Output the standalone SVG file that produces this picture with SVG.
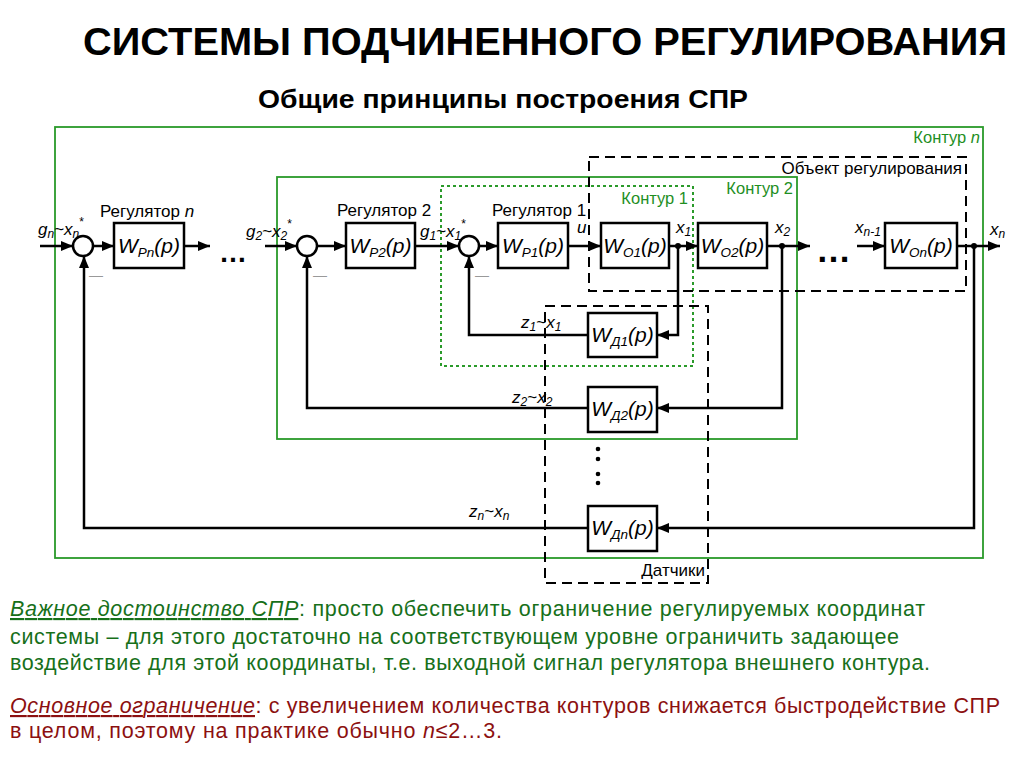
<svg xmlns="http://www.w3.org/2000/svg" width="1024" height="767" viewBox="0 0 1024 767">
<style>
text{font-family:"Liberation Sans",Arial,sans-serif;fill:#000}
.ttl{font-family:"Liberation Sans Narrow","Liberation Sans",Arial,sans-serif;font-weight:bold;font-stretch:condensed}
.blk{fill:#fff;stroke:#000;stroke-width:2.5}
.sig{fill:none;stroke:#000;stroke-width:2.5}
.sum{fill:#fff;stroke:#000;stroke-width:2.5}
.kg{fill:none;stroke:#2a9a2a;stroke-width:1.8}
.kd{fill:none;stroke:#2a9a2a;stroke-width:2;stroke-dasharray:3 3}
.dash{fill:none;stroke:#000;stroke-width:2;stroke-dasharray:10 6}
.w{font-size:21px;font-style:italic;text-anchor:middle}
.ws{font-size:13.5px}
.lbl{font-size:17px}
.it{font-style:italic}
.sb{font-size:12px}
.gl{font-size:16.5px;fill:#1f8f1f}
.mn{font-size:14px;fill:#999}
.gt{font-size:21.5px;fill:#17701a}
.rt{font-size:21.5px;fill:#8c1010}
</style>
<defs>
<marker id="ar" viewBox="0 0 12 10" refX="12" refY="5" markerWidth="12" markerHeight="10" markerUnits="userSpaceOnUse" orient="auto">
<path d="M0,0 L12,5 L0,10 z" fill="#000"/>
</marker>
</defs>

<text class="ttl" x="83" y="55" font-size="39" textLength="924" lengthAdjust="spacingAndGlyphs">СИСТЕМЫ ПОДЧИНЕННОГО РЕГУЛИРОВАНИЯ</text>
<text class="ttl" x="258" y="108" font-size="26" textLength="490" lengthAdjust="spacingAndGlyphs">Общие принципы построения СПР</text>

<g id="kontur-n"><rect class="kg" x="55" y="127" width="928" height="431"/>
<text class="gl" x="980" y="143" text-anchor="end">Контур <tspan class="it">n</tspan></text></g>
<g id="kontur-2"><rect class="kg" x="277" y="177" width="520" height="262"/>
<text class="gl" x="793" y="194" text-anchor="end">Контур 2</text></g>
<g id="kontur-1"><rect class="kd" x="441" y="186" width="252" height="180"/>
<text class="gl" x="688" y="204" text-anchor="end">Контур 1</text></g>
<g id="object"><rect class="dash" x="589" y="157" width="377" height="134"/>
<text class="lbl" x="962" y="174" text-anchor="end">Объект регулирования</text></g>
<g id="sensors"><rect class="dash" x="545" y="306" width="163" height="277"/>
<text class="lbl" x="705" y="576" text-anchor="end">Датчики</text></g>

<g id="connectors">
<path class="sig" d="M40,246 H73" marker-end="url(#ar)"/>
<path class="sig" d="M93,246 H114" marker-end="url(#ar)"/>
<path class="sig" d="M184,246 H210" marker-end="url(#ar)"/>
<path class="sig" d="M265,246 H297" marker-end="url(#ar)"/>
<path class="sig" d="M317,246 H346" marker-end="url(#ar)"/>
<path class="sig" d="M415,246 H459" marker-end="url(#ar)"/>
<path class="sig" d="M479,246 H498" marker-end="url(#ar)"/>
<path class="sig" d="M568,246 H601" marker-end="url(#ar)"/>
<path class="sig" d="M669,246 H698" marker-end="url(#ar)"/>
<path class="sig" d="M767,246 H810" marker-end="url(#ar)"/>
<path class="sig" d="M857,246 H885" marker-end="url(#ar)"/>
<path class="sig" d="M957,246 H1000" marker-end="url(#ar)"/>
<path class="sig" d="M678,246 V335 H657" marker-end="url(#ar)"/>
<path class="sig" d="M588,335 H469 V256" marker-end="url(#ar)"/>
<path class="sig" d="M782,246 V408 H657" marker-end="url(#ar)"/>
<path class="sig" d="M588,408 H307 V256" marker-end="url(#ar)"/>
<path class="sig" d="M974,246 V528 H657" marker-end="url(#ar)"/>
<path class="sig" d="M588,528 H84 V256" marker-end="url(#ar)"/>
<circle cx="678" cy="246" r="3" fill="#000"/>
<circle cx="782" cy="246" r="3" fill="#000"/>
<circle cx="974" cy="246" r="3" fill="#000"/>
</g>

<g id="sum-n"><circle class="sum" cx="83" cy="246" r="10"/><text class="mn" x="89" y="280">—</text></g>
<g id="sum-2"><circle class="sum" cx="307" cy="246" r="10"/><text class="mn" x="313" y="280">—</text></g>
<g id="sum-1"><circle class="sum" cx="469" cy="246" r="10"/><text class="mn" x="475" y="280">—</text></g>

<g id="wpn"><rect class="blk" x="114" y="223" width="70" height="45"/>
<text class="w" x="149" y="253">W<tspan class="ws" dy="4">Pn</tspan><tspan dy="-4">(p)</tspan></text>
<text class="lbl" x="100" y="217">Регулятор <tspan class="it">n</tspan></text></g>
<g id="wp2"><rect class="blk" x="346" y="223" width="69" height="45"/>
<text class="w" x="380.5" y="253">W<tspan class="ws" dy="4">P2</tspan><tspan dy="-4">(p)</tspan></text>
<text class="lbl" x="337" y="216">Регулятор 2</text></g>
<g id="wp1"><rect class="blk" x="498" y="223" width="70" height="45"/>
<text class="w" x="533" y="253">W<tspan class="ws" dy="4">P1</tspan><tspan dy="-4">(p)</tspan></text>
<text class="lbl" x="492" y="216">Регулятор 1</text></g>
<g id="wo1"><rect class="blk" x="601" y="223" width="68" height="45"/>
<text class="w" x="635" y="253">W<tspan class="ws" dy="4">O1</tspan><tspan dy="-4">(p)</tspan></text></g>
<g id="wo2"><rect class="blk" x="698" y="223" width="69" height="45"/>
<text class="w" x="732.5" y="253">W<tspan class="ws" dy="4">O2</tspan><tspan dy="-4">(p)</tspan></text></g>
<g id="won"><rect class="blk" x="885" y="223" width="72" height="45"/>
<text class="w" x="921" y="253">W<tspan class="ws" dy="4">On</tspan><tspan dy="-4">(p)</tspan></text></g>
<g id="wd1"><rect class="blk" x="588" y="313" width="69" height="44"/>
<text class="w" x="622.5" y="342">W<tspan class="ws" dy="4">Д1</tspan><tspan dy="-4">(p)</tspan></text></g>
<g id="wd2"><rect class="blk" x="588" y="387" width="69" height="45"/>
<text class="w" x="622.5" y="416">W<tspan class="ws" dy="4">Д2</tspan><tspan dy="-4">(p)</tspan></text></g>
<g id="wdn"><rect class="blk" x="588" y="506" width="69" height="45"/>
<text class="w" x="622.5" y="535">W<tspan class="ws" dy="4">Дn</tspan><tspan dy="-4">(p)</tspan></text></g>

<g id="labels">
<text class="lbl" x="38" y="235"><tspan class="it">g</tspan><tspan class="sb it" dy="3">n</tspan><tspan dy="-3">~</tspan><tspan class="it">x</tspan><tspan class="sb it" dy="3">n</tspan><tspan class="sb" dy="-12">*</tspan></text>
<text class="lbl" x="246" y="237"><tspan class="it">g</tspan><tspan class="sb it" dy="3">2</tspan><tspan dy="-3">~</tspan><tspan class="it">x</tspan><tspan class="sb it" dy="3">2</tspan><tspan class="sb" dy="-12">*</tspan></text>
<text class="lbl" x="420" y="237"><tspan class="it">g</tspan><tspan class="sb it" dy="3">1</tspan><tspan dy="-3">~</tspan><tspan class="it">x</tspan><tspan class="sb it" dy="3">1</tspan><tspan class="sb" dy="-12">*</tspan></text>
<text class="lbl it" x="577" y="233">u</text>
<text class="lbl it" x="676" y="233">x<tspan class="sb" dy="3">1</tspan></text>
<text class="lbl it" x="775" y="233">x<tspan class="sb" dy="3">2</tspan></text>
<text class="lbl it" x="855" y="233">x<tspan class="sb" dy="3">n-1</tspan></text>
<text class="lbl it" x="990" y="235">x<tspan class="sb" dy="3">n</tspan></text>
<text class="lbl" x="521" y="328"><tspan class="it">z</tspan><tspan class="sb it" dy="3">1</tspan><tspan dy="-3">~</tspan><tspan class="it">x</tspan><tspan class="sb it" dy="3">1</tspan></text>
<text class="lbl" x="512" y="403"><tspan class="it">z</tspan><tspan class="sb it" dy="3">2</tspan><tspan dy="-3">~</tspan><tspan class="it">x</tspan><tspan class="sb it" dy="3">2</tspan></text>
<text class="lbl" x="469" y="517"><tspan class="it">z</tspan><tspan class="sb it" dy="3">n</tspan><tspan dy="-3">~</tspan><tspan class="it">x</tspan><tspan class="sb it" dy="3">n</tspan></text>
<text x="219" y="262" font-size="28" font-weight="bold">…</text>
<text x="816" y="262" font-size="35" font-weight="bold">…</text>
<circle cx="598" cy="449" r="2.3" fill="#000"/>
<circle cx="598" cy="459" r="2.3" fill="#000"/>
<circle cx="598" cy="474" r="2.3" fill="#000"/>
<circle cx="598" cy="483" r="2.3" fill="#000"/>
</g>

<g id="notes">
<text class="gt" x="10" y="616" textLength="915"><tspan font-style="italic" text-decoration="underline">Важное достоинство СПР</tspan>: просто обеспечить ограничение регулируемых координат</text>
<text class="gt" x="10" y="644" textLength="889">системы – для этого достаточно на соответствующем уровне ограничить задающее</text>
<text class="gt" x="10" y="670" textLength="920">воздействие для этой координаты, т.е. выходной сигнал регулятора внешнего контура.</text>
<text class="rt" x="10" y="713" textLength="990"><tspan font-style="italic" text-decoration="underline">Основное ограничение</tspan>: с увеличением количества контуров снижается быстродействие СПР</text>
<text class="rt" x="10" y="738" textLength="492">в целом, поэтому на практике обычно <tspan font-style="italic">n</tspan>≤2…3.</text>
</g>
</svg>
